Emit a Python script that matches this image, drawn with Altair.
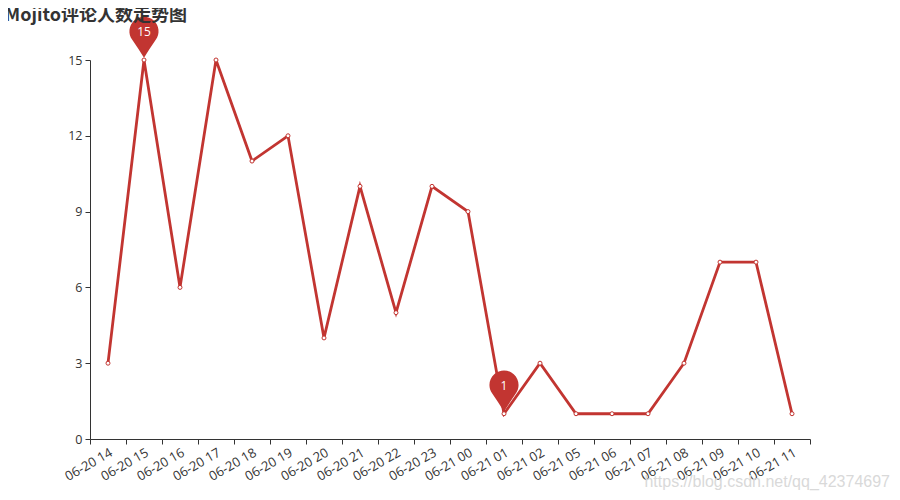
import altair as alt
import pandas as pd

times = ["06-20 14", "06-20 15", "06-20 16", "06-20 17", "06-20 18", "06-20 19",
         "06-20 20", "06-20 21", "06-20 22", "06-20 23", "06-21 00", "06-21 01",
         "06-21 02", "06-21 05", "06-21 06", "06-21 07", "06-21 08", "06-21 09",
         "06-21 10", "06-21 11"]
counts = [3, 15, 6, 15, 11, 12, 4, 10, 5, 10, 9, 1, 3, 1, 1, 1, 3, 7, 7, 1]
y_ticks = [0, 3, 6, 9, 12, 15]
title_text = "Mojito评论人数走势图"
watermark = "https://blog.csdn.net/qq_42374697"

RED = "#c23531"
AXIS = "#333333"
PIN = "M0 -0.08 Q -0.2 -0.4 -0.42 -0.72 A 0.52 0.52 0 1 1 0.42 -0.72 Q 0.2 -0.4 0 -0.08 Z"

df = pd.DataFrame({"time": times, "count": counts})
imax = counts.index(max(counts))
imin = counts.index(min(counts))
marks = df.iloc[[imax, imin]].reset_index(drop=True)

def xenc():
    return alt.X(
        "time:N", sort=times, bandPosition=0.5,
        scale=alt.Scale(type="band", paddingInner=0, paddingOuter=0, domain=times),
        axis=alt.Axis(title=None, tickBand="extent", labelAngle=-30, labelFontSize=13,
                      labelColor=AXIS, domainColor=AXIS, tickColor=AXIS, tickSize=5,
                      labelPadding=2, labelFont="Open Sans", grid=False),
    )

def yenc():
    return alt.Y(
        "count:Q",
        scale=alt.Scale(domain=[0, 15], nice=False, zero=True),
        axis=alt.Axis(title=None, values=y_ticks, labelFontSize=12.5, labelColor=AXIS,
                      domainColor=AXIS, tickColor=AXIS, tickSize=5, labelPadding=3,
                      labelFont="Open Sans", grid=False),
    )

base = alt.Chart(df)
line = base.mark_line(color=RED, strokeWidth=2.8).encode(x=xenc(), y=yenc())
pts = base.mark_point(shape="circle", size=16, filled=True, fill="white", stroke=RED,
                      strokeWidth=1, opacity=1).encode(x=xenc(), y=yenc())

mk = alt.Chart(marks)
pins = mk.mark_point(shape=PIN, size=3136, filled=True, fill=RED, opacity=1,
                     strokeWidth=0).encode(x=xenc(), y=yenc())
pin_text = mk.mark_text(color="white", fontSize=12, fontWeight="normal", dy=-28,
                        font="Open Sans").encode(x=xenc(), y=yenc(), text="count:Q")

wm = alt.Chart(pd.DataFrame({"t": [watermark]})).mark_text(
    align="right", baseline="middle", fontSize=16, font="Liberation Sans", color="#d9d9d9"
).encode(x=alt.value(800), y=alt.value(422), text="t:N")

chart = alt.layer(line, pts, pins, pin_text, wm).properties(
    width=720, height=379,
    autosize=alt.AutoSizeParams(type="none"),
    padding={"left": 82, "top": 52, "right": 82, "bottom": 61},
    title=alt.TitleParams(title_text, anchor="start", dx=-58, fontSize=18,
                          fontWeight="bold", color=AXIS, font="Noto Sans CJK SC", offset=-8),
).configure_view(stroke=None)

chart.save("out.html", embed_options={"renderer": "svg", "actions": False})
